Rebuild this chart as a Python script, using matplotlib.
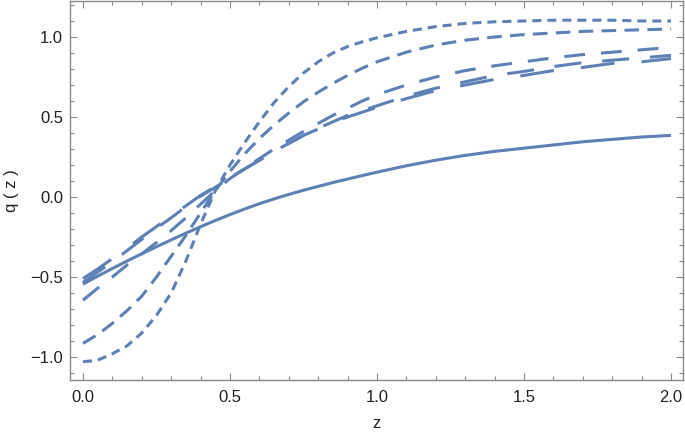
import numpy as np
import matplotlib
matplotlib.use("Agg")
import matplotlib.pyplot as plt
from matplotlib.ticker import MultipleLocator, FuncFormatter

# ---- Data ----
z = [0.0, 0.05, 0.1, 0.15, 0.2, 0.25, 0.3, 0.35, 0.4, 0.45, 0.5, 0.55, 0.6,
     0.65, 0.7, 0.75, 0.8, 0.85, 0.9, 0.95, 1.0, 1.1, 1.2, 1.3, 1.4, 1.5,
     1.6, 1.7, 1.8, 1.9, 2.0]

q_solid = [-0.545, -0.495, -0.447, -0.40, -0.355, -0.311, -0.268, -0.226,
           -0.186, -0.147, -0.11, -0.075, -0.042, -0.012, 0.016, 0.042, 0.066,
           0.09, 0.112, 0.134, 0.155, 0.195, 0.23, 0.26, 0.285, 0.305, 0.325,
           0.345, 0.36, 0.375, 0.385]

q_long_a = [-0.51, -0.45, -0.385, -0.32, -0.25, -0.185, -0.12, -0.055, 0.01,
            0.065, 0.12, 0.175, 0.23, 0.285, 0.335, 0.385, 0.425, 0.465, 0.50,
            0.53, 0.56, 0.615, 0.665, 0.70, 0.735, 0.76, 0.79, 0.81, 0.835,
            0.845, 0.865]

q_long_b = [-0.535, -0.47, -0.405, -0.335, -0.265, -0.195, -0.13, -0.06, 0.005,
            0.06, 0.12, 0.175, 0.23, 0.285, 0.335, 0.385, 0.43, 0.47, 0.51,
            0.54, 0.57, 0.63, 0.68, 0.72, 0.76, 0.785, 0.815, 0.84, 0.855,
            0.87, 0.885]

q_long_c = [-0.645, -0.57, -0.50, -0.425, -0.355, -0.285, -0.21, -0.13, -0.045,
            0.04, 0.115, 0.18, 0.24, 0.30, 0.355, 0.41, 0.46, 0.51, 0.555,
            0.60, 0.64, 0.70, 0.75, 0.79, 0.82, 0.845, 0.87, 0.89, 0.905,
            0.92, 0.935]

q_medium = [-0.915, -0.86, -0.79, -0.71, -0.62, -0.50, -0.37, -0.24, -0.10,
            0.04, 0.16, 0.27, 0.365, 0.45, 0.525, 0.595, 0.655, 0.71, 0.76,
            0.805, 0.845, 0.905, 0.95, 0.98, 1.0, 1.015, 1.025, 1.035, 1.04,
            1.045, 1.05]

q_short = [-1.03, -1.02, -0.98, -0.93, -0.85, -0.74, -0.60, -0.40, -0.17,
           0.04, 0.20, 0.34, 0.47, 0.59, 0.69, 0.775, 0.845, 0.90, 0.94,
           0.97, 0.995, 1.035, 1.065, 1.085, 1.095, 1.10, 1.105, 1.105,
           1.105, 1.10, 1.10]

COLOR = "#5E81B5"
FRAME = "#8a8a8a"
TEXT = "#222222"

plt.rcParams["font.family"] = ["Liberation Sans", "DejaVu Sans"]
plt.rcParams["lines.scale_dashes"] = False

fig = plt.figure(figsize=(6.85, 4.38), dpi=100)
ax = fig.add_axes([70 / 685, 1 - 380 / 438, 613 / 685, 379 / 438])

lw = 2.2
series = [
    (q_solid, "-"),
    (q_long_a, (0, (24.5, 19.5))),
    (q_long_b, (0, (19.5, 15))),
    (q_long_c, (0, (15, 11.5))),
    (q_medium, (0, (10.5, 6))),
    (q_short, (0, (6.5, 4.3))),
]
for q, ls in series:
    ax.plot(z, q, color=COLOR, lw=lw, linestyle=ls,
            dash_capstyle="butt", solid_capstyle="butt",
            solid_joinstyle="round", dash_joinstyle="round")

ax.set_xlim(-0.0442, 2.0408)
ax.set_ylim(-1.144, 1.225)

fmt = FuncFormatter(lambda v, pos: f"{v:.1f}".replace("-", "\u2212"))
ax.xaxis.set_major_locator(MultipleLocator(0.5))
ax.xaxis.set_minor_locator(MultipleLocator(0.1))
ax.yaxis.set_major_locator(MultipleLocator(0.5))
ax.yaxis.set_minor_locator(MultipleLocator(0.1))
ax.xaxis.set_major_formatter(fmt)
ax.yaxis.set_major_formatter(fmt)

ax.tick_params(which="both", direction="in", top=True, right=True,
               color=FRAME, labelsize=12, labelcolor=TEXT, width=0.8)
ax.tick_params(which="major", length=5)
ax.tick_params(which="minor", length=2.8)
ax.tick_params(axis="x", pad=7)
ax.tick_params(axis="y", pad=5)
for s in ax.spines.values():
    s.set_color(FRAME)
    s.set_linewidth(1.0)

ax.set_xlabel("z", fontsize=12, color=TEXT, labelpad=8)
ax.set_ylabel("q ( z )", fontsize=12, color=TEXT, labelpad=8)

fig.savefig("out.png", dpi=100)
